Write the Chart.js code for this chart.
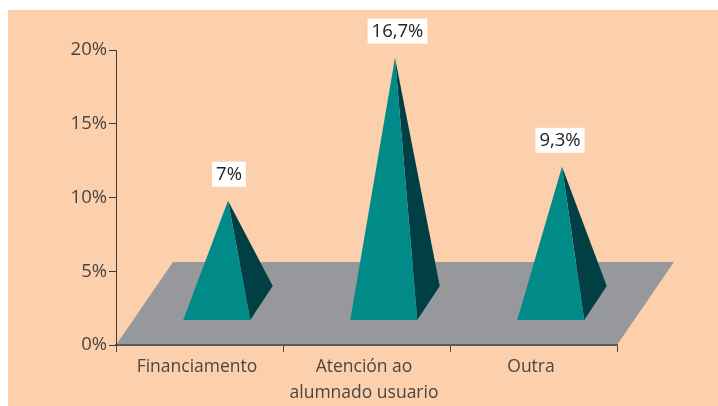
<!DOCTYPE html>
<html>
<head>
<meta charset="utf-8">
<style>
html,body{margin:0;padding:0;background:#fff;}
#wrap{position:absolute;left:8px;top:10px;width:710px;height:396px;}
</style>
<script src="https://cdn.jsdelivr.net/npm/chart.js@4/dist/chart.umd.min.js"></script>
</head>
<body>
<div id="wrap"><canvas id="c" width="710" height="396"></canvas></div>
<script>
const categories = ['Financiamento', ['Atención ao', 'alumnado usuario'], 'Outra'];
const values = [7, 16.7, 9.3];
const floorValue = 5.63;
const tickStep = 5;
const axisMax = 20;

const FONT = '"Open Sans", "Noto Sans", sans-serif';
const peach = '#FCD0AC', teal = '#008B89', dark = '#004045', gray = '#97989C', ink = '#4A4543';

const pyramids = {
  id: 'pyramids',
  beforeDraw(chart) {
    const { ctx, chartArea: a, scales: { y } } = chart;
    ctx.save();
    ctx.fillStyle = peach;
    ctx.fillRect(0, 0, chart.width, chart.height);
    const y0 = y.getPixelForValue(0), yb = y.getPixelForValue(floorValue);
    const dx = 57;
    ctx.fillStyle = gray;
    ctx.beginPath();
    ctx.moveTo(a.left, y0);
    ctx.lineTo(a.left + dx, yb);
    ctx.lineTo(a.right + dx, yb);
    ctx.lineTo(a.right, y0);
    ctx.closePath();
    ctx.fill();
    ctx.restore();
  },
  afterDatasetsDraw(chart) {
    const { ctx } = chart;
    const meta = chart.getDatasetMeta(0);
    const data = chart.data.datasets[0].data;
    ctx.save();
    meta.data.forEach((bar, i) => {
      const { x, y } = bar.getProps(['x', 'y'], true);
      const y0 = chart.scales.y.getPixelForValue(0);
      const cx = x + 28.5, cy = y0 - 42;
      const apexY = y - 41;
      const hw = 33.5, ddx = 11.25, ddy = 17;
      const fl = [cx - hw - ddx, cy + ddy], fr = [cx + hw - ddx, cy + ddy], br = [cx + hw + ddx, cy - ddy];
      ctx.fillStyle = dark;
      ctx.beginPath();
      ctx.moveTo(cx, apexY); ctx.lineTo(fr[0], fr[1]); ctx.lineTo(br[0], br[1]); ctx.closePath(); ctx.fill();
      ctx.fillStyle = teal;
      ctx.beginPath();
      ctx.moveTo(cx, apexY); ctx.lineTo(fl[0], fl[1]); ctx.lineTo(fr[0], fr[1]); ctx.closePath(); ctx.fill();

      const txt = String(data[i]).replace('.', ',') + '%';
      ctx.font = '500 18.5px ' + FONT;
      const tw = ctx.measureText(txt).width;
      const bw = tw + 8, bh = 25, by = apexY - 14 - bh;
      const lx = cx + [1, 2.5, -2][i];
      ctx.fillStyle = '#fff';
      ctx.fillRect(lx - bw / 2, by, bw, bh);
      ctx.fillStyle = '#222';
      ctx.textAlign = 'center';
      ctx.textBaseline = 'middle';
      ctx.fillText(txt, lx, by + bh / 2 + 0.5);
    });
    ctx.restore();
  }
};

new Chart(document.getElementById('c'), {
  type: 'bar',
  data: {
    labels: categories,
    datasets: [{ data: values, backgroundColor: 'rgba(0,0,0,0)', borderWidth: 0 }]
  },
  plugins: [pyramids],
  options: {
    responsive: false,
    animation: false,
    layout: { padding: { top: 40, right: 101, left: 0, bottom: 0 } },
    plugins: { legend: { display: false }, tooltip: { enabled: false } },
    scales: {
      x: {
        offset: true,
        afterFit(s) { s.height = 61; },
        grid: { drawOnChartArea: false, color: '#4a4a4a', tickLength: 7, offset: true },
        border: { color: '#5a5a5a', width: 2 },
        ticks: { color: ink, maxRotation: 0, autoSkip: false, padding: 2, labelOffset: -2.5, font: { family: FONT, size: 17.5, weight: '400', lineHeight: 1.48 } }
      },
      y: {
        min: 0, max: axisMax,
        afterFit(s) { s.width = 108; },
        grid: { drawOnChartArea: false, color: '#3a3a3a', tickLength: 7 },
        border: { color: '#3a3a3a', width: 1 },
        ticks: { stepSize: tickStep, color: ink, padding: 2, callback: v => v + '%', font: { family: FONT, size: 18.5, weight: '400' } }
      }
    }
  }
});
</script>
</body>
</html>
